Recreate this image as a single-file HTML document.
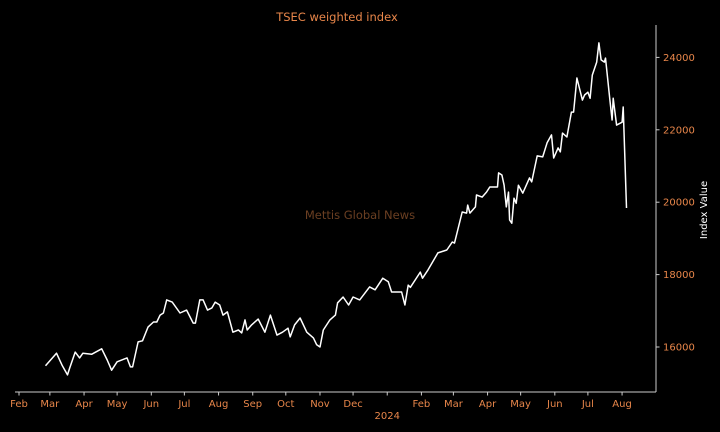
<!DOCTYPE html>
<html><head><meta charset="utf-8"><style>
html,body{margin:0;padding:0;background:#000;width:720px;height:432px;overflow:hidden}
svg text{font-family:"DejaVu Sans","Liberation Sans",sans-serif}
</style></head><body>
<svg id="chart" width="720" height="432" viewBox="0 0 720 432" xmlns="http://www.w3.org/2000/svg">
<rect width="720" height="432" fill="#000"/>
<text x="337" y="21" text-anchor="middle" font-size="11.5" fill="#e8864a">TSEC weighted index</text>
<text x="360" y="219" text-anchor="middle" font-size="11.5" fill="#6b3f22">Mettis Global News</text>
<text transform="translate(707,210) rotate(-90)" text-anchor="middle" font-size="10" fill="#ffffff">Index Value</text>
<line x1="15" y1="392" x2="656" y2="392" stroke="#cccccc" stroke-width="1"/>
<line x1="656" y1="25" x2="656" y2="392" stroke="#cccccc" stroke-width="1"/>
<g id="xticks"></g>
<g id="yticks"></g>
<path id="line" fill="none" stroke="#ffffff" stroke-width="1.5" stroke-linejoin="round"/>
</svg>
<script>
// days since 2023-02-01
const dayOffsets = [24,34,39,44,46,51,55,58,66,75,80,84,89,98,101,103,108,112,117,122,125,128,131,134,139,146,152,158,160,164,167,171,175,178,182,185,189,194,199,202,205,207,211,217,223,228,234,239,244,246,250,255,261,267,270,273,276,282,287,289,294,299,303,309,318,323,330,335,338,347,350,353,355,364,366,371,380,388,393,395,402,406,407,409,414,415,420,424,427,434,435,438,440,442,444,445,447,449,451,453,457,463,465,470,475,479,483,485,489,491,493,497,501,503,506,511,513,516,518,520,524,526,528,531,532,536,538,539,542,547,548,551];
const indexValues = [15480,15830,15500,15230,15420,15860,15700,15830,15800,15950,15640,15360,15590,15700,15450,15450,16140,16170,16550,16690,16690,16880,16940,17300,17240,16940,17020,16660,16660,17300,17300,17020,17080,17240,17160,16880,16970,16410,16470,16390,16750,16470,16610,16770,16410,16880,16330,16410,16520,16280,16610,16800,16410,16250,16060,16000,16470,16750,16880,17220,17380,17160,17380,17300,17660,17580,17900,17800,17520,17520,17160,17710,17650,18070,17900,18130,18600,18680,18900,18870,19730,19700,19920,19700,19870,20200,20140,20280,20420,20420,20810,20750,20470,19870,20280,19510,19420,20110,19970,20470,20250,20670,20560,21280,21250,21640,21860,21220,21500,21390,21910,21800,22490,22490,23430,22820,22960,23040,22870,23510,23870,24400,23930,23870,23980,22820,22270,22870,22130,22210,22630,19840];
const monthLabels = ["Feb","Mar","Apr","May","Jun","Jul","Aug","Sep","Oct","Nov","Dec","2024","Feb","Mar","Apr","May","Jun","Jul","Aug"];
const yTickValues = [16000,18000,20000,22000,24000];

const NS="http://www.w3.org/2000/svg";
const base=Date.UTC(2023,1,1);
const dayMs=86400000;
function xScale(d){return 19+d*1.1025;}
function yScale(v){return 347-(v-16000)*0.0362;}
const svg=document.getElementById('chart');
const xg=document.getElementById('xticks');
monthLabels.forEach((lab,i)=>{
  const d=(Date.UTC(2023,1+i,1)-base)/dayMs;
  const x=xScale(d);
  const t=document.createElementNS(NS,'line');
  t.setAttribute('x1',x);t.setAttribute('x2',x);t.setAttribute('y1',392);t.setAttribute('y2',395.5);
  t.setAttribute('stroke','#cccccc');
  
  
  xg.appendChild(t);
  const tx=document.createElementNS(NS,'text');
  tx.setAttribute('x',x);tx.setAttribute('y',407);
  tx.setAttribute('text-anchor','middle');tx.setAttribute('font-size','10');tx.setAttribute('fill','#e8864a');
  tx.textContent = lab==="2024" ? "" : lab;
  
  
  xg.appendChild(tx);
  if(lab==="2024"){
    const y2=document.createElementNS(NS,'text');
    y2.setAttribute('x',x);y2.setAttribute('y',419);
    y2.setAttribute('text-anchor','middle');y2.setAttribute('font-size','10');y2.setAttribute('fill','#e8864a');
    y2.textContent="2024";
    
    
    xg.appendChild(y2);
  }
});
const yg=document.getElementById('yticks');
yTickValues.forEach(v=>{
  const y=yScale(v);
  const t=document.createElementNS(NS,'line');
  t.setAttribute('x1',656);t.setAttribute('x2',659.5);t.setAttribute('y1',y);t.setAttribute('y2',y);
  t.setAttribute('stroke','#cccccc');
  
  
  yg.appendChild(t);
  const tx=document.createElementNS(NS,'text');
  tx.setAttribute('x',663);tx.setAttribute('y',y+3.5);
  tx.setAttribute('font-size','10');tx.setAttribute('fill','#e8864a');
  tx.textContent=v;
  
  
  yg.appendChild(tx);
});
let d='';
dayOffsets.forEach((dd,i)=>{d+=(i?'L':'M')+xScale(dd).toFixed(1)+','+yScale(indexValues[i]).toFixed(1);});
document.getElementById('line').setAttribute('d',d);
</script>
</body></html>
